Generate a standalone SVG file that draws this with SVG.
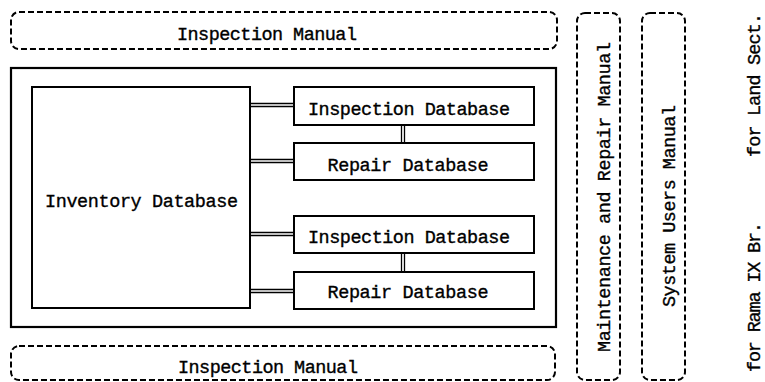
<svg xmlns="http://www.w3.org/2000/svg" width="765" height="382" viewBox="0 0 765 382">
<style>
.t{font-family:"Liberation Mono","DejaVu Sans Mono",monospace;font-size:18.5px;fill:#000;stroke:#000;stroke-width:0.35}
.dash{fill:none;stroke:#000;stroke-width:2;stroke-dasharray:6 3}
.box{fill:#fff;stroke:#000;stroke-width:2}
.ln{fill:none;stroke:#000;stroke-width:1.3}
</style>
<rect width="765" height="382" fill="#fff"/>
<g id="manual-top">
<rect class="dash" x="11" y="12" width="546" height="37" rx="8"/>
<text class="t" x="267" y="40" text-anchor="middle" textLength="180" lengthAdjust="spacing">Inspection Manual</text>
</g>
<g id="system-frame">
<rect x="11" y="68" width="545" height="259" fill="none" stroke="#000" stroke-width="2.2"/>
</g>
<g id="connectors">
<path class="ln" d="M250 103.5H294M250 106.5H294"/>
<path class="ln" d="M250 159.5H294M250 162.5H294"/>
<path class="ln" d="M250 232.5H294M250 235.5H294"/>
<path class="ln" d="M250 289.5H294M250 292.5H294"/>
<path class="ln" d="M401.5 125V143M404.5 125V143"/>
<path class="ln" d="M401.5 253V272M404.5 253V272"/>
</g>
<g id="inventory">
<rect class="box" x="32" y="87" width="218" height="221"/>
<text class="t" x="141.5" y="207" text-anchor="middle" textLength="193" lengthAdjust="spacing">Inventory Database</text>
</g>
<g id="inspection-db-1">
<rect class="box" x="294" y="87" width="240" height="38"/>
<text class="t" x="409" y="115" text-anchor="middle" textLength="202" lengthAdjust="spacing">Inspection Database</text>
</g>
<g id="repair-db-1">
<rect class="box" x="294" y="143" width="240" height="37"/>
<text class="t" x="408" y="171" text-anchor="middle" textLength="161" lengthAdjust="spacing">Repair Database</text>
</g>
<g id="inspection-db-2">
<rect class="box" x="294" y="216" width="240" height="37"/>
<text class="t" x="409" y="243" text-anchor="middle" textLength="202" lengthAdjust="spacing">Inspection Database</text>
</g>
<g id="repair-db-2">
<rect class="box" x="294" y="272" width="240" height="37"/>
<text class="t" x="408" y="298" text-anchor="middle" textLength="161" lengthAdjust="spacing">Repair Database</text>
</g>
<g id="manual-bottom">
<rect class="dash" x="11" y="346" width="544" height="34" rx="8"/>
<text class="t" x="268" y="373" text-anchor="middle" textLength="180" lengthAdjust="spacing">Inspection Manual</text>
</g>
<g id="maintenance-manual">
<rect class="dash" x="577" y="13" width="43" height="367" rx="8"/>
<text class="t" transform="translate(610 197) rotate(-90)" text-anchor="middle" textLength="310" lengthAdjust="spacing">Maintenance and Repair Manual</text>
</g>
<g id="system-users-manual">
<rect class="dash" x="642" y="13" width="43" height="367" rx="8"/>
<text class="t" transform="translate(675 206) rotate(-90)" text-anchor="middle" textLength="202" lengthAdjust="spacing">System Users Manual</text>
</g>
<g id="labels">
<text class="t" transform="translate(760 85) rotate(-90)" text-anchor="middle" textLength="144" lengthAdjust="spacing">for Land Sect.</text>
<text class="t" transform="translate(760 297) rotate(-90)" text-anchor="middle" textLength="150" lengthAdjust="spacing">for Rama IX Br.</text>
</g>
</svg>
